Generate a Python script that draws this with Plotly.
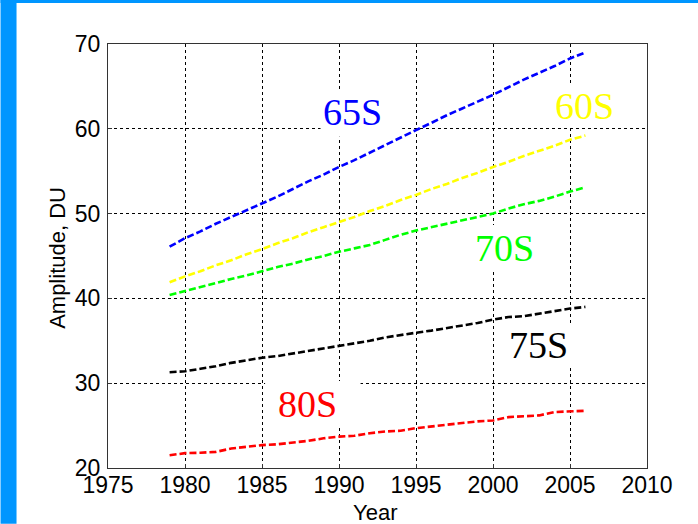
import plotly.graph_objects as go

years = list(range(1979, 2007))

s65 = [46.1, 47.1, 47.9, 48.8, 49.6, 50.4, 51.2, 52.0, 52.9, 53.8, 54.6, 55.5, 56.3, 57.2,
       58.1, 59.0, 59.85, 60.7, 61.6, 62.4, 63.2, 64.0, 64.9, 65.8, 66.6, 67.4, 68.3, 69.0]
s60 = [41.9, 42.6, 43.2, 43.9, 44.5, 45.2, 45.8, 46.5, 47.1, 47.8, 48.4, 49.0, 49.6, 50.3,
       50.9, 51.6, 52.2, 52.9, 53.5, 54.2, 54.8, 55.5, 56.1, 56.8, 57.4, 58.0, 58.7, 59.2]
s70 = [40.4, 40.85, 41.3, 41.8, 42.3, 42.7, 43.2, 43.7, 44.1, 44.6, 45.0, 45.5, 45.9, 46.3,
       46.9, 47.5, 48.0, 48.4, 48.8, 49.2, 49.6, 50.0, 50.6, 51.1, 51.5, 52.0, 52.6, 53.1]
s75 = [31.3, 31.4, 31.7, 32.0, 32.4, 32.7, 33.0, 33.2, 33.5, 33.8, 34.1, 34.45, 34.7, 35.0,
       35.4, 35.7, 35.95, 36.2, 36.5, 36.8, 37.1, 37.5, 37.8, 37.9, 38.2, 38.5, 38.8, 39.0]
s80 = [21.5, 21.75, 21.8, 21.9, 22.3, 22.5, 22.7, 22.8, 23.0, 23.2, 23.5, 23.7, 23.8, 24.1,
       24.3, 24.4, 24.7, 24.9, 25.1, 25.3, 25.5, 25.6, 26.0, 26.1, 26.2, 26.6, 26.7, 26.75]

series_names = ["65S", "60S", "70S", "75S", "80S"]
series_values = [s65, s60, s70, s75, s80]
series_colors = ["#0000FF", "#FFFF00", "#00FF00", "#000000", "#FF0000"]

x_ticks = [1975, 1980, 1985, 1990, 1995, 2000, 2005, 2010]
y_ticks = [20, 30, 40, 50, 60, 70]

# label text positions (data coords) and white boxes behind them
label_pos = {
    "65S": (1990.85, 62.0),
    "60S": (2005.93, 62.7),
    "70S": (2000.75, 46.0),
    "75S": (2002.94, 34.5),
    "80S": (1987.93, 27.6),
}
label_boxes = {
    "65S": (1988.8, 1994.1, 59.05, 64.35),
    "60S": (2003.7, 2008.9, 60.2, 65.4),
    "70S": (1998.5, 2003.2, 43.35, 48.65),
    "75S": (2000.9, 2006.1, 31.95, 37.1),
    "80S": (1985.2, 1991.4, 24.75, 30.25),
}

fig = go.Figure()
for name, vals, col in zip(series_names, series_values, series_colors):
    fig.add_trace(go.Scatter(
        x=years, y=vals, mode="lines", name=name,
        line=dict(color=col, width=2.6, dash="7px,3px"),
        showlegend=False, hoverinfo="skip",
    ))

shapes = []
for name in series_names:
    x0, x1, y0, y1 = label_boxes[name]
    shapes.append(dict(type="rect", xref="x", yref="y", x0=x0, x1=x1, y0=y0, y1=y1,
                       fillcolor="white", line=dict(width=0), layer="between"))

# blue slide strips (top and left)
W, H = 698, 524
ml, mr, mt, mb = 107.5, 51.3, 44.0, 55.7
pw, ph = W - ml - mr, H - mt - mb
def px2paper_x(px):
    return (px - ml) / pw
def px2paper_y(py):
    return (H - mb - py) / ph
blue = "#0096FF"
shapes.append(dict(type="rect", xref="paper", yref="paper",
                   x0=px2paper_x(0), x1=px2paper_x(16), y0=px2paper_y(524), y1=px2paper_y(0),
                   fillcolor=blue, line=dict(width=0), layer="above"))
shapes.append(dict(type="rect", xref="paper", yref="paper",
                   x0=px2paper_x(0), x1=px2paper_x(698), y0=px2paper_y(3), y1=px2paper_y(0),
                   fillcolor=blue, line=dict(width=0), layer="above"))

annotations = []
for name, col in zip(series_names, series_colors):
    lx, ly = label_pos[name]
    annotations.append(dict(x=lx, y=ly, xref="x", yref="y", text=name, showarrow=False,
                            font=dict(family="Liberation Serif", size=38, color=col),
                            xanchor="center", yanchor="middle"))
annotations.append(dict(x=px2paper_x(374.5), y=px2paper_y(513), xref="paper", yref="paper",
                        text="Year", showarrow=False,
                        font=dict(family="Liberation Sans", size=22, color="black"),
                        xanchor="center", yanchor="middle"))
annotations.append(dict(x=px2paper_x(57.5), y=px2paper_y(258), xref="paper", yref="paper",
                        text="Amplitude, DU", showarrow=False, textangle=-90,
                        font=dict(family="Liberation Sans", size=22, color="black"),
                        xanchor="center", yanchor="middle"))

axis_common = dict(
    showgrid=True, gridcolor="black", gridwidth=1, griddash="3px,3px",
    showline=True, linecolor="#333333", linewidth=1.2, mirror=True,
    ticks="inside", ticklen=4, tickcolor="#333333",
    tickfont=dict(family="Liberation Sans", size=23, color="black"),
    zeroline=False,
)

fig.update_layout(
    width=W, height=H,
    margin=dict(l=ml, r=mr, t=mt, b=mb, autoexpand=False),
    paper_bgcolor="white", plot_bgcolor="white",
    xaxis=dict(range=[1975, 2010], tickvals=x_ticks, ticktext=[str(v) for v in x_ticks],
               ticklabelstandoff=-4, **axis_common),
    yaxis=dict(range=[20, 70], tickvals=y_ticks, ticktext=[str(v) for v in y_ticks],
               ticklabelstandoff=2, **axis_common),
    shapes=shapes, annotations=annotations,
)

fig.write_html("out.html", config={"displayModeBar": False},
               post_script="document.body.style.margin='0';document.body.style.overflow='hidden';")
